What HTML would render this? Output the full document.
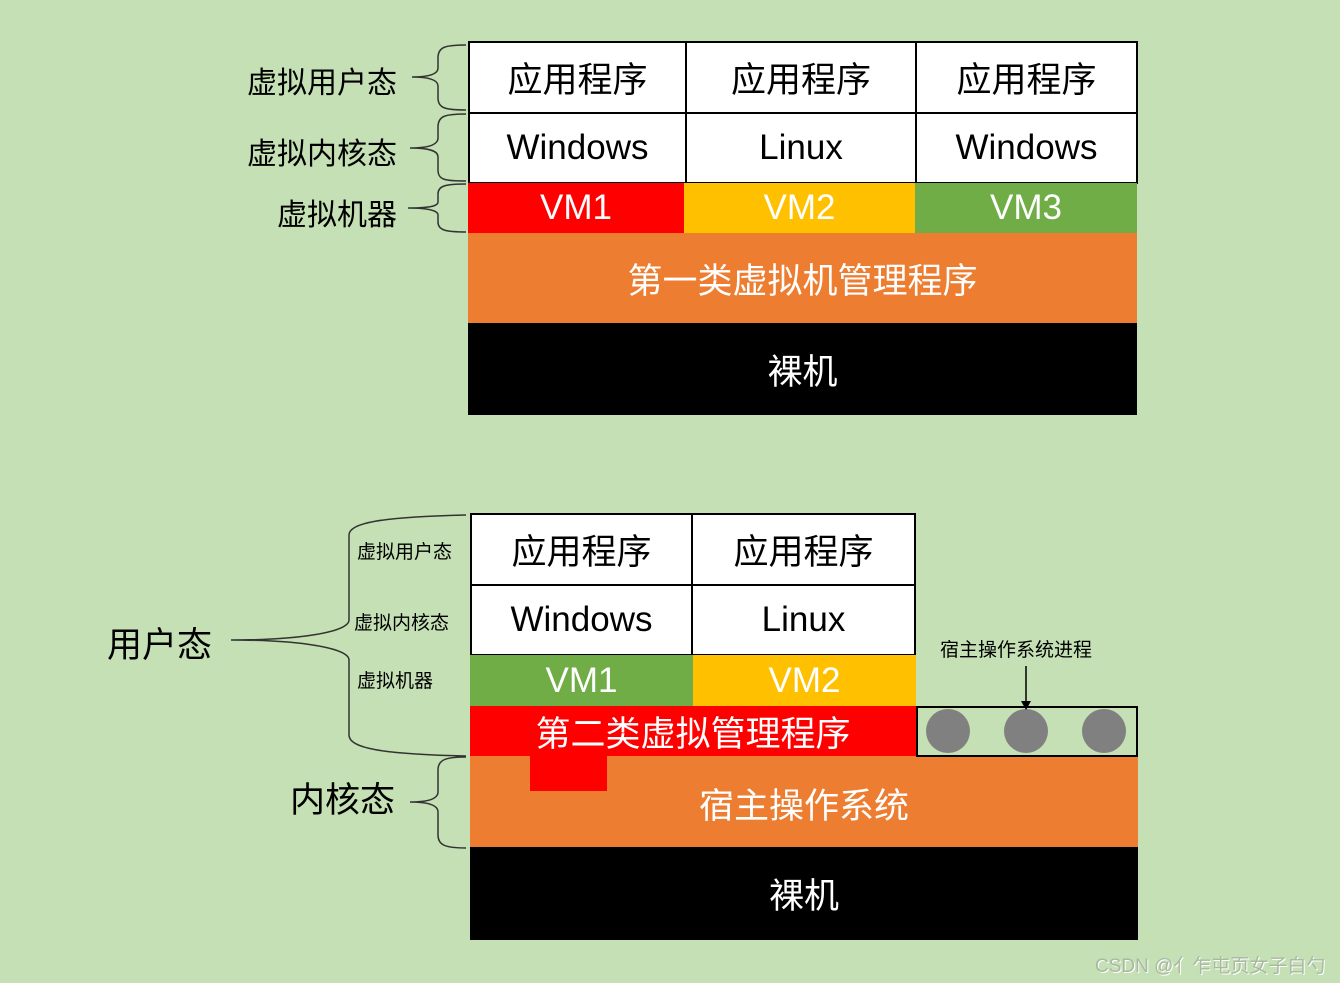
<!DOCTYPE html>
<html><head><meta charset="utf-8"><style>
body{margin:0;width:1340px;height:983px;background:#c5e0b4;position:relative;overflow:hidden;font-family:"Liberation Sans","Noto Sans CJK SC",sans-serif}
.b{position:absolute;display:flex;align-items:center;justify-content:center;box-sizing:border-box;font-size:35px}
.w{background:#fff;border:2px solid #000;color:#000}
.t{position:absolute;white-space:nowrap;color:#000}
</style></head><body>
<!-- top diagram -->
<div class="b w" style="left:468px;top:41px;width:219px;height:73px">应用程序</div>
<div class="b w" style="left:685px;top:41px;width:232px;height:73px">应用程序</div>
<div class="b w" style="left:915px;top:41px;width:223px;height:73px">应用程序</div>
<div class="b w" style="left:468px;top:112px;width:219px;height:72px">Windows</div>
<div class="b w" style="left:685px;top:112px;width:232px;height:72px">Linux</div>
<div class="b w" style="left:915px;top:112px;width:223px;height:72px">Windows</div>
<div class="b" style="left:468px;top:183px;width:216px;height:50px;background:#ff0000;color:#fff">VM1</div>
<div class="b" style="left:684px;top:183px;width:231px;height:50px;background:#ffc000;color:#fff">VM2</div>
<div class="b" style="left:915px;top:183px;width:222px;height:50px;background:#70ad47;color:#fff">VM3</div>
<div class="b" style="left:468px;top:233px;width:669px;height:90px;background:#ed7d31;color:#fff">第一类虚拟机管理程序</div>
<div class="b" style="left:468px;top:323px;width:669px;height:92px;background:#000;color:#fff">裸机</div>
<div class="t" style="right:943px;top:58px;font-size:30px">虚拟用户态</div>
<div class="t" style="right:943px;top:129px;font-size:30px">虚拟内核态</div>
<div class="t" style="right:943px;top:190px;font-size:30px">虚拟机器</div>

<!-- bottom diagram -->
<div class="b w" style="left:470px;top:513px;width:223px;height:73px">应用程序</div>
<div class="b w" style="left:691px;top:513px;width:225px;height:73px">应用程序</div>
<div class="b w" style="left:470px;top:584px;width:223px;height:72px">Windows</div>
<div class="b w" style="left:691px;top:584px;width:225px;height:72px">Linux</div>
<div class="b" style="left:470px;top:655px;width:223px;height:51px;background:#70ad47;color:#fff">VM1</div>
<div class="b" style="left:693px;top:655px;width:223px;height:51px;background:#ffc000;color:#fff">VM2</div>
<div class="b" style="left:470px;top:756px;width:668px;height:91px;background:#ed7d31;color:#fff;padding-top:4px">宿主操作系统</div>
<div style="position:absolute;left:530px;top:750px;width:77px;height:41px;background:#ff0000"></div>
<div class="b" style="left:470px;top:706px;width:446px;height:50px;background:#ff0000;color:#fff">第二类虚拟管理程序</div>
<div class="b" style="left:470px;top:847px;width:668px;height:93px;background:#000;color:#fff">裸机</div>
<div style="position:absolute;left:916px;top:706px;width:222px;height:51px;border:2px solid #000;box-sizing:border-box"></div>
<svg style="position:absolute;left:0;top:0" width="1340" height="983">
<g fill="#808080"><circle cx="948" cy="731" r="22"/><circle cx="1026" cy="731" r="22"/><circle cx="1104" cy="731" r="22"/></g>
<line x1="1026" y1="666" x2="1026" y2="702" stroke="#000" stroke-width="1.5"/>
<polygon points="1021,701 1031,701 1026,710" fill="#000"/>
<g fill="none" stroke="#333" stroke-width="1.5">
<path d="M466,45 C445,45 438,47 438,58 L438,68 C438,74 430,77 412,77 C430,77 438,80 438,86 L438,98 C438,108 445,110 466,110"/>
<path d="M466,114 C445,114 438,116 438,127 L438,138 C438,144 430,148 410,148 C430,148 438,151 438,157 L438,170 C438,180 445,181 466,181"/>
<path d="M466,184 C445,184 438,186 438,194 L438,202 C438,206 430,208 408,208 C430,208 438,211 438,215 L438,222 C438,230 445,232 466,232"/>
<path d="M466,515 C380,517 349,523 349,535 L349,620 C349,632 300,640 231,640 C300,640 349,648 349,660 L349,735 C349,748 380,754 466,756"/>
<path d="M466,757 C445,757 438,760 438,770 L438,792 C438,798 430,802 410,802 C430,802 438,806 438,812 L438,835 C438,845 445,848 466,848"/>
</g>
</svg>
<div class="t" style="left:357px;top:537px;font-size:19px">虚拟用户态</div>
<div class="t" style="left:354px;top:608px;font-size:19px">虚拟内核态</div>
<div class="t" style="left:357px;top:666px;font-size:19px">虚拟机器</div>
<div class="t" style="left:107px;top:617px;font-size:35px">用户态</div>
<div class="t" style="left:290px;top:772px;font-size:35px">内核态</div>
<div class="t" style="left:940px;top:635px;font-size:19px">宿主操作系统进程</div>
<div class="t" style="left:1095px;top:951px;font-size:19px;color:#a9b8a2;text-shadow:1px 1px 0 #fff">CSDN @亻乍屯页女子白勺</div>
</body></html>
